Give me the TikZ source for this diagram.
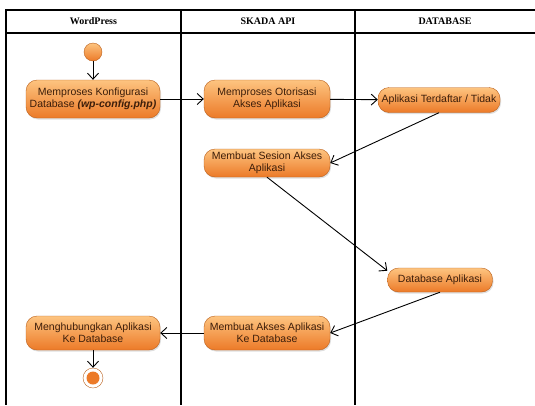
\documentclass[tikz,border=0pt]{standalone}
\usepackage{fontspec}
\setmainfont{Liberation Serif}
\setsansfont{Liberation Sans}
\usetikzlibrary{arrows.meta}
\usetikzlibrary{shadows}
\definecolor{acttop}{RGB}{253,196,128}
\definecolor{actbot}{RGB}{236,122,40}
\definecolor{actline}{RGB}{186,96,28}
\definecolor{acttext}{RGB}{60,30,10}

\tikzset{
    lane/.style={line width=1.4pt},
    head/.style={font=\bfseries\fontsize{10}{11}\selectfont},
    action/.style={draw=actline, top color=acttop, bottom color=actbot,
        rounded corners=11pt, align=center, inner sep=1pt, text=acttext,
        font=\sffamily\fontsize{10.5}{12}\selectfont,
        drop shadow={opacity=0.25, shadow xshift=1pt, shadow yshift=-1.5pt}},
    init/.style={circle, draw=actline, top color=acttop, bottom color=actbot,
        minimum size=18pt, inner sep=0pt},
    final/.style={circle, draw=actline, fill=white, minimum size=20pt, inner sep=0pt},
    flow/.style={-{Straight Barb[length=6pt,width=11pt]}, line width=0.9pt}
}

\begin{document}
\begin{tikzpicture}[x=1pt, y=-1pt]
    \useasboundingbox (0,0) rectangle (535,405);
    % swimlanes
    \draw[lane] (535,10) -- (6,10) -- (6,405);
    \draw[lane] (6,33) -- (535,33);
    \draw[lane] (181,10) -- (181,405);
    \draw[lane] (355,10) -- (355,405);
    \node[head] (h1) at (93.5,21.5) {WordPress};
    \node[head] (h2) at (268,21.5) {SKADA API};
    \node[head] (h3) at (445,21.5) {DATABASE};

    % activities
    \node[init] (start) at (93,52) {};
    \node[action, minimum width=134pt, minimum height=38pt] (n1) at (93,99)
        {Memproses Konfigurasi\\Database \textbf{\textit{(wp-config.php)}}};
    \node[action, minimum width=126pt, minimum height=38pt] (n2) at (267,99)
        {Memproses Otorisasi\\Akses Aplikasi};
    \node[action, minimum width=122pt, minimum height=25pt] (n3) at (439,100)
        {Aplikasi Terdaftar / Tidak};
    \node[action, minimum width=126pt, minimum height=28pt] (n4) at (267,163)
        {Membuat Sesion Akses\\Aplikasi};
    \node[action, minimum width=105pt, minimum height=24pt] (n5) at (440,280)
        {Database Aplikasi};
    \node[action, minimum width=126pt, minimum height=34pt] (n6) at (267,333)
        {Membuat Akses Aplikasi\\Ke Database};
    \node[action, minimum width=134pt, minimum height=34pt] (n7) at (93,333)
        {Menghubungkan Aplikasi\\Ke Database};
    \node[final] (stop) at (93,378) {};
    \fill[actbot] (stop) circle (6.5pt);

    % transitions
    \draw[flow] (start) -- (n1);
    \draw[flow] (n1) -- (n2);
    \draw[flow] (n2) -- (n3);
    \draw[flow] (n3.south) -- (n4.east);
    \draw[flow] (n4.south) -- (n5.170);
    \draw[flow] (n5.south) -- (n6.east);
    \draw[flow] (n6) -- (n7);
    \draw[flow] (n7) -- (stop);
\end{tikzpicture}
\end{document}
